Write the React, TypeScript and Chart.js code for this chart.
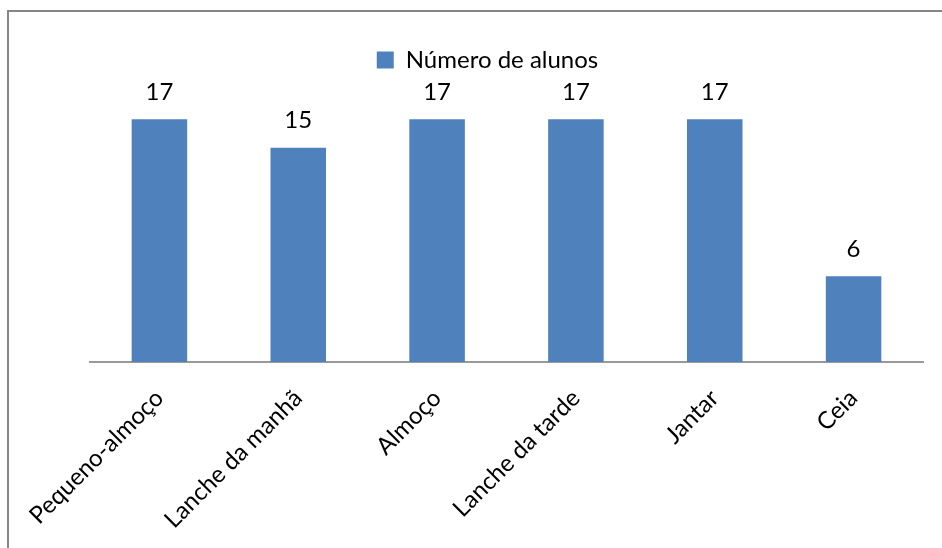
import React, { useEffect, useRef } from "react";
import { Chart, registerables } from "chart.js";

Chart.register(...registerables);

const categories = ["Pequeno-almoço", "Lanche da manhã", "Almoço", "Lanche da tarde", "Jantar", "Ceia"];
const seriesName = "Número de alunos";
const values = [17, 15, 17, 17, 17, 6];

const FONT = "Lato, 'Open Sans', sans-serif";

const framePlugin = {
  id: "frame",
  beforeDraw(chart: any) {
    const ctx = chart.ctx;
    ctx.save();
    ctx.strokeStyle = "#868686";
    ctx.lineWidth = 2;
    ctx.beginPath();
    ctx.moveTo(8, chart.height + 5);
    ctx.lineTo(8, 11);
    ctx.lineTo(chart.width + 5, 11);
    ctx.stroke();
    ctx.restore();
  },
};

const valueLabelPlugin = {
  id: "valueLabels",
  afterDatasetsDraw(chart: any) {
    const ctx = chart.ctx;
    ctx.save();
    ctx.fillStyle = "#000";
    ctx.font = `24px ${FONT}`;
    ctx.textAlign = "center";
    ctx.textBaseline = "middle";
    chart.data.datasets.forEach((ds: any, di: number) => {
      const meta = chart.getDatasetMeta(di);
      meta.data.forEach((el: any, i: number) => {
        ctx.fillText(String(ds.data[i]), el.x, el.y - 27);
      });
    });
    ctx.restore();
  },
};

export default function App() {
  const ref = useRef<HTMLCanvasElement | null>(null);
  useEffect(() => {
    if (!ref.current) return;
    const chart = new Chart(ref.current, {
      type: "bar",
      data: {
        labels: categories,
        datasets: [
          {
            label: seriesName,
            data: values,
            backgroundColor: "#4F81BD",
            borderWidth: 0,
            categoryPercentage: 1,
            barPercentage: 0.4,
          },
        ],
      },
      options: {
        animation: false,
        responsive: false,
        devicePixelRatio: 1,
        layout: { padding: { left: 52, right: 19, top: 40, bottom: 0 } },
        font: { family: FONT },
        plugins: {
          tooltip: { enabled: false },
          legend: {
            position: "top",
            labels: {
              boxWidth: 17,
              boxHeight: 17,
              color: "#000",
              font: { family: FONT, size: 24 },
              padding: 8,
            },
          },
        },
        scales: {
          x: {
            grid: { display: true, drawOnChartArea: false, drawTicks: false },
            border: { display: true, color: "#999999", width: 2 },
            ticks: {
              color: "#000",
              font: { family: FONT, size: 24 },
              minRotation: 45,
              maxRotation: 45,
              padding: 22,
            },
            afterFit: (s: any) => {
              s.paddingLeft = 0;
              s.paddingRight = 0;
              s.height = 186;
            },
          },
          y: {
            min: 0,
            max: 19.6,
            grid: { display: false },
            border: { display: false },
            ticks: { display: false },
            afterFit: (s: any) => {
              s.width = 38;
            },
          },
        },
      },
      plugins: [framePlugin, valueLabelPlugin],
    });
    return () => chart.destroy();
  }, []);
  return (
    <div style={{ position: "absolute", left: 0, top: 0, width: 942, height: 548, overflow: "hidden", background: "#fff" }}>
      <canvas ref={ref} width={942} height={548} style={{ width: 942, height: 548 }} />
    </div>
  );
}
